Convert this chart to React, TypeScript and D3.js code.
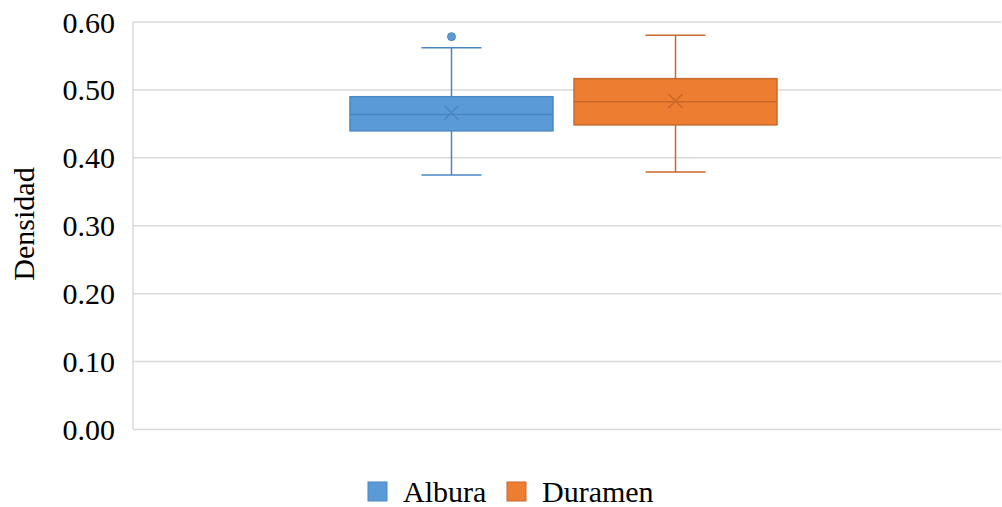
import React from "react";
import * as d3 from "d3";

const series = ["Albura", "Duramen"];
const fills = ["#5B9BD5", "#ED7D31"];
const strokes = ["#4A86C2", "#C8692A"];
const whiskerLow = [0.3746, 0.379];
const q1 = [0.4397, 0.4485];
const median = [0.4637, 0.4824];
const q3 = [0.490, 0.5166];
const whiskerHigh = [0.5622, 0.5804];
const means = [0.4665, 0.4838];
const outliers: number[][] = [[0.5784], []];
const yTicks = [0, 0.1, 0.2, 0.3, 0.4, 0.5, 0.6];

const W = 1002;
const H = 507;
const plot = { left: 133, right: 1001, top: 22, bottom: 429.5 };
const FONT = '"Liberation Serif", "Times New Roman", Times, serif';
const textStyle = { fontFamily: FONT, fontSize: "30px" };

export default function App() {
  const y = d3.scaleLinear().domain([0, 0.6]).range([plot.bottom, plot.top]);
  const x = d3.scaleBand<string>().domain(series).range([350, 777]).paddingInner(0.094);
  const bw = x.bandwidth();
  const capW = 60;

  return (
    <svg
      width={W}
      height={H}
      style={{ position: "absolute", left: 0, top: 0, background: "#fff" }}
    >
      {yTicks.map((t) => (
        <g key={t}>
          <line
            x1={plot.left}
            x2={plot.right}
            y1={y(t)}
            y2={y(t)}
            stroke="#D9D9D9"
            strokeWidth={1.5}
          />
          <text
            x={115}
            y={y(t)}
            dy="0.35em"
            textAnchor="end"
            style={textStyle}
            fill="#000"
          >
            {d3.format(".2f")(t)}
          </text>
        </g>
      ))}
      <line
        x1={plot.left}
        x2={plot.left}
        y1={plot.top}
        y2={plot.bottom}
        stroke="#D9D9D9"
        strokeWidth={1.5}
      />
      <text
        transform={`translate(34,224) rotate(-90)`}
        textAnchor="middle"
        style={textStyle}
        fill="#000"
      >
        Densidad
      </text>

      {series.map((s, i) => {
        const x0 = x(s)!;
        const cx = x0 + bw / 2;
        const st = strokes[i];
        const m = 7;
        return (
          <g key={s}>
            <line x1={cx} x2={cx} y1={y(whiskerHigh[i])} y2={y(q3[i])} stroke={st} strokeWidth={1.5} />
            <line x1={cx} x2={cx} y1={y(q1[i])} y2={y(whiskerLow[i])} stroke={st} strokeWidth={1.5} />
            <line x1={cx - capW / 2} x2={cx + capW / 2} y1={y(whiskerHigh[i])} y2={y(whiskerHigh[i])} stroke={st} strokeWidth={1.5} />
            <line x1={cx - capW / 2} x2={cx + capW / 2} y1={y(whiskerLow[i])} y2={y(whiskerLow[i])} stroke={st} strokeWidth={1.5} />
            <rect
              x={x0}
              y={y(q3[i])}
              width={bw}
              height={y(q1[i]) - y(q3[i])}
              fill={fills[i]}
              stroke={st}
              strokeWidth={1.5}
            />
            <line x1={x0} x2={x0 + bw} y1={y(median[i])} y2={y(median[i])} stroke={st} strokeWidth={1.5} />
            <path
              d={`M${cx - m},${y(means[i]) - m}L${cx + m},${y(means[i]) + m}M${cx - m},${y(means[i]) + m}L${cx + m},${y(means[i]) - m}`}
              stroke={st}
              strokeWidth={1.5}
              fill="none"
            />
            {outliers[i].map((o, j) => (
              <circle key={j} cx={cx} cy={y(o)} r={4} fill={fills[i]} stroke={st} strokeWidth={1} />
            ))}
          </g>
        );
      })}

      {series.map((s, i) => {
        const lx = [368, 507][i];
        return (
          <g key={"lg" + s}>
            <rect x={lx} y={482} width={19} height={19} fill={fills[i]} stroke={strokes[i]} strokeWidth={1} />
            <text x={lx + 35} y={502} style={textStyle} fill="#000">
              {s}
            </text>
          </g>
        );
      })}
    </svg>
  );
}
